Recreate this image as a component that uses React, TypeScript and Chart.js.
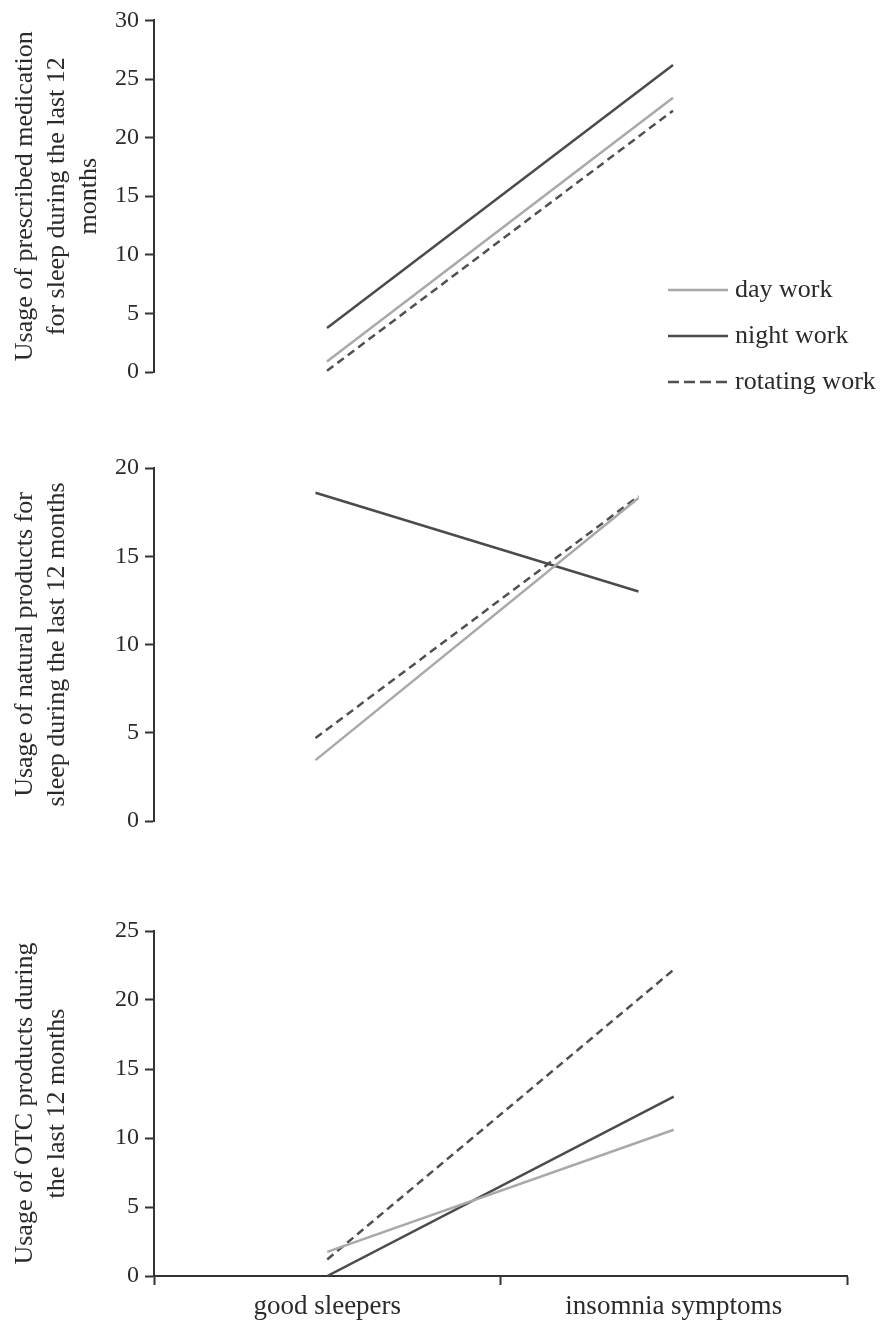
import React, { useEffect, useRef } from "react";
import { Chart, registerables } from "chart.js";

Chart.register(...registerables);

// ---------- data ----------
const categories = ["good sleepers", "insomnia symptoms"];
const seriesNames = ["day work", "night work", "rotating work"];

const prescribedDay = [0.9, 23.4];
const prescribedNight = [3.75, 26.2];
const prescribedRotating = [0.1, 22.3];

const naturalDay = [3.45, 18.3];
const naturalNight = [18.6, 13.0];
const naturalRotating = [4.7, 18.4];

const otcDay = [1.75, 10.6];
const otcNight = [0.0, 13.0];
const otcRotating = [1.2, 22.2];

const prescribedTitle = ["Usage of prescribed medication", "for sleep during the last 12", "months"];
const naturalTitle = ["Usage of natural products for", "sleep during the last 12 months"];
const otcTitle = ["Usage of OTC products during", "the last 12 months"];

const prescribedMax = 30;
const naturalMax = 20;
const otcMax = 25;
const yStep = 5;

// ---------- styles ----------
const SERIF = "'Liberation Serif', 'Times New Roman', serif";
const TEXT = "#2b2b2b";
const AXIS = "#333333";
const DAY_COLOR = "#a9a9a9";
const NIGHT_COLOR = "#4b4b4b";
const ROT_COLOR = "#505050";

const sideLegend = {
  id: "sideLegend",
  afterDraw(chart: any, _args: any, opts: any) {
    if (!opts || !opts.display) return;
    const ctx = chart.ctx;
    ctx.save();
    chart.data.datasets.forEach((ds: any, i: number) => {
      const y = opts.y + i * opts.spacing;
      ctx.beginPath();
      ctx.strokeStyle = ds.borderColor;
      ctx.lineWidth = ds.borderWidth;
      ctx.setLineDash(ds.borderDash ? opts.dash : []);
      ctx.moveTo(opts.x, y);
      ctx.lineTo(opts.x + opts.lineLength, y);
      ctx.stroke();
      ctx.setLineDash([]);
      ctx.fillStyle = TEXT;
      ctx.font = `${opts.fontSize}px ${SERIF}`;
      ctx.textBaseline = "middle";
      ctx.textAlign = "left";
      ctx.fillText(ds.label, opts.x + opts.lineLength + opts.gap, y);
    });
    ctx.restore();
  },
};

function makeDatasets(day: number[], night: number[], rot: number[]) {
  return [
    { label: seriesNames[0], data: day, borderColor: DAY_COLOR, borderWidth: 2.5, pointRadius: 0, tension: 0, fill: false },
    { label: seriesNames[1], data: night, borderColor: NIGHT_COLOR, borderWidth: 2.5, pointRadius: 0, tension: 0, fill: false },
    { label: seriesNames[2], data: rot, borderColor: ROT_COLOR, borderWidth: 2.5, borderDash: [8, 5], pointRadius: 0, tension: 0, fill: false },
  ];
}

function makeConfig(p: {
  day: number[]; night: number[]; rot: number[]; title: string[]; max: number;
  showX: boolean; legend: boolean; padding: any;
}): any {
  return {
    type: "line",
    data: { labels: categories, datasets: makeDatasets(p.day, p.night, p.rot) },
    plugins: [sideLegend],
    options: {
      responsive: false,
      animation: false,
      devicePixelRatio: 1,
      layout: { padding: p.padding },
      plugins: {
        legend: { display: false },
        tooltip: { enabled: false },
        sideLegend: { display: p.legend, x: 668, y: 290, spacing: 46, lineLength: 60, gap: 7, fontSize: 26, dash: [11, 5] },
      },
      scales: {
        x: {
          type: "category",
          display: p.showX,
          offset: true,
          grid: { display: true, offset: true, drawOnChartArea: false, drawTicks: true, tickLength: 9, tickColor: AXIS, tickWidth: 2 },
          border: { display: true, color: AXIS, width: 2 },
          ticks: { color: TEXT, font: { family: SERIF, size: 27 }, padding: 6, maxRotation: 0 },
          afterFit: (scale: any) => { if (p.showX) scale.height = 55; },
        },
        y: {
          min: 0,
          max: p.max,
          ticks: { stepSize: yStep, color: TEXT, font: { family: SERIF, size: 24 }, padding: 6 },
          grid: { drawOnChartArea: false, drawTicks: true, tickLength: 9, tickColor: AXIS, tickWidth: 2 },
          border: { display: true, color: AXIS, width: 2 },
          title: {
            display: true,
            text: p.title,
            color: TEXT,
            font: { family: SERIF, size: 26, lineHeight: "32px" },
            padding: { top: 9, bottom: 0 },
          },
          afterFit: (scale: any) => { scale.width = 154; },
        },
      },
    },
  };
}

function Panel(props: { top: number; height: number; config: any }) {
  const ref = useRef<HTMLCanvasElement | null>(null);
  useEffect(() => {
    if (!ref.current) return;
    const chart = new Chart(ref.current, props.config);
    return () => chart.destroy();
  }, []);
  return (
    <canvas
      ref={ref}
      width={883}
      height={props.height}
      style={{ position: "absolute", left: 0, top: props.top, width: 883, height: props.height }}
    />
  );
}

export default function App() {
  useEffect(() => {
    document.body.style.margin = "0";
    document.body.style.background = "#ffffff";
  }, []);

  const topCfg = makeConfig({
    day: prescribedDay, night: prescribedNight, rot: prescribedRotating, title: prescribedTitle,
    max: prescribedMax, showX: false, legend: true, padding: { left: 0, top: 20, right: 37, bottom: 28 },
  });
  const midCfg = makeConfig({
    day: naturalDay, night: naturalNight, rot: naturalRotating, title: naturalTitle,
    max: naturalMax, showX: false, legend: false, padding: { left: 0, top: 48, right: 83, bottom: 29 },
  });
  const botCfg = makeConfig({
    day: otcDay, night: otcNight, rot: otcRotating, title: otcTitle,
    max: otcMax, showX: true, legend: false, padding: { left: 0, top: 31, right: 36, bottom: 0 },
  });

  return (
    <div style={{ position: "relative", width: 883, height: 1331, background: "#fff" }}>
      <Panel top={0} height={400} config={topCfg} />
      <Panel top={420} height={430} config={midCfg} />
      <Panel top={900} height={431} config={botCfg} />
    </div>
  );
}
